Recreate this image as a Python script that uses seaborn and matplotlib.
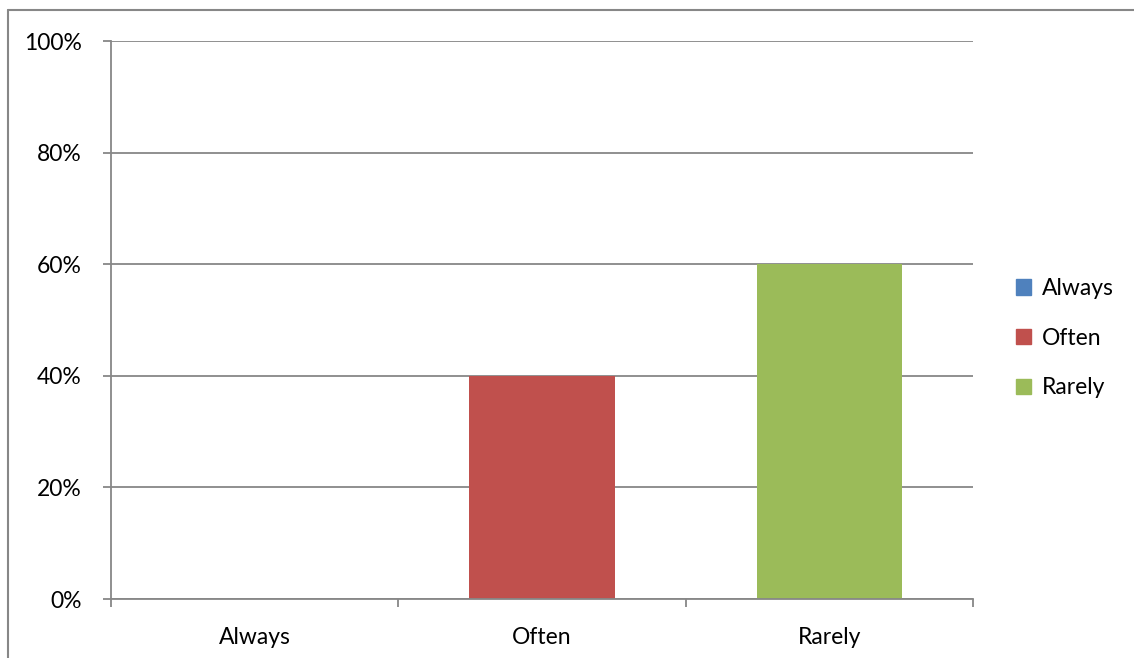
import matplotlib
matplotlib.use("Agg")
import matplotlib.pyplot as plt
from matplotlib.lines import Line2D
from matplotlib.ticker import PercentFormatter
import seaborn as sns
import pandas as pd

categories = ["Always", "Often", "Rarely"]
shares = [0.0, 40.0, 60.0]
colors = ["#4F81BD", "#C0504D", "#9BBB59"]
y_ticks = [0, 20, 40, 60, 80, 100]

df = pd.DataFrame({"answer": categories, "share": shares})

sns.set_style("white")
plt.rcParams["font.family"] = ["Lato", "DejaVu Sans"]
plt.rcParams["text.color"] = "black"
plt.rcParams["xtick.color"] = "black"
plt.rcParams["ytick.color"] = "black"
grey = "#878787"

fig = plt.figure(figsize=(11.34, 6.58), dpi=100)
ax = fig.add_axes([111 / 1134, 1 - 599 / 658, (973 - 111) / 1134, (599 - 41) / 658])

sns.barplot(data=df, x="answer", y="share", hue="answer", palette=colors,
            width=0.505, dodge=False, saturation=1, legend=False,
            linewidth=0, ax=ax)

ax.set_ylim(0, 100)
ax.set_xlim(-0.5, 2.5)
ax.set_yticks(y_ticks)
ax.yaxis.set_major_formatter(PercentFormatter(decimals=0))
ax.yaxis.grid(True, color=grey, linewidth=1.3)
ax.set_axisbelow(True)
ax.set_xlabel("")
ax.set_ylabel("")

for s in ["top", "right"]:
    ax.spines[s].set_visible(False)
for s in ["left", "bottom"]:
    ax.spines[s].set_color(grey)
    ax.spines[s].set_linewidth(1.3)

ax.tick_params(axis="y", length=6, width=1.3, color=grey, labelsize=16.5,
               labelcolor="black", pad=15, left=True)
ax.tick_params(axis="x", length=0, labelsize=16.5, labelcolor="black", pad=20)
ax.set_xticks([-0.5, 0.5, 1.5, 2.5], minor=True)
ax.tick_params(axis="x", which="minor", length=6, width=1.3, color=grey, bottom=True)

handles = [plt.Rectangle((0, 0), 1, 1, color=c) for c in colors]
fig.legend(handles, categories, loc="center left", bbox_to_anchor=(0.878, 0.486),
           frameon=False, fontsize=16.5, handlelength=0.65, handleheight=0.65,
           handletextpad=0.45, labelspacing=1.25)

# outer chart-area border (top and left edges visible)
fig.add_artist(Line2D([8 / 1134, 8 / 1134], [0, 1 - 10 / 658], color=grey, lw=1.5))
fig.add_artist(Line2D([8 / 1134, 1], [1 - 10 / 658, 1 - 10 / 658], color=grey, lw=1.5))

fig.savefig("out.png", dpi=100)
